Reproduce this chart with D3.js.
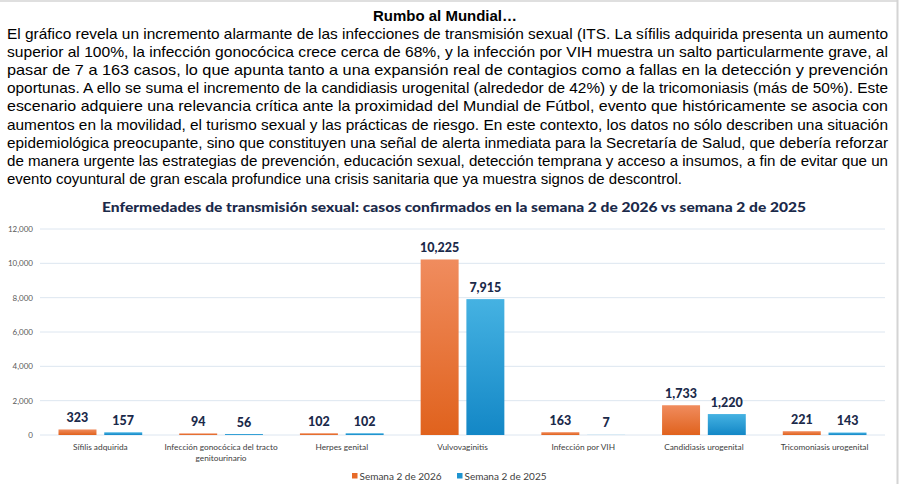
<!DOCTYPE html>
<html><head><meta charset="utf-8">
<script src="https://cdn.jsdelivr.net/npm/d3@7"></script>
<style>
html,body{margin:0;padding:0;background:#fff;}
svg{display:block;}
</style></head>
<body>
<svg id="c" width="900" height="484"></svg>
<script>
const headline = "Rumbo al Mundial…";
const paragraph = [
 "El gráfico revela un incremento alarmante de las infecciones de transmisión sexual (ITS. La sífilis adquirida presenta un aumento",
 "superior al 100%, la infección gonocócica crece cerca de 68%, y la infección por VIH muestra un salto particularmente grave, al",
 "pasar de 7 a 163 casos, lo que apunta tanto a una expansión real de contagios como a fallas en la detección y prevención",
 "oportunas. A ello se suma el incremento de la candidiasis urogenital (alrededor de 42%) y de la tricomoniasis (más de 50%). Este",
 "escenario adquiere una relevancia crítica ante la proximidad del Mundial de Fútbol, evento que históricamente se asocia con",
 "aumentos en la movilidad, el turismo sexual y las prácticas de riesgo. En este contexto, los datos no sólo describen una situación",
 "epidemiológica preocupante, sino que constituyen una señal de alerta inmediata para la Secretaría de Salud, que debería reforzar",
 "de manera urgente las estrategias de prevención, educación sexual, detección temprana y acceso a insumos, a fin de evitar que un",
 "evento coyuntural de gran escala profundice una crisis sanitaria que ya muestra signos de descontrol."
];
const chartTitle = "Enfermedades de transmisión sexual: casos confirmados en la semana 2 de 2026 vs semana 2 de 2025";
const categories = [
 ["Sífilis adquirida"],
 ["Infección gonocócica del tracto","genitourinario"],
 ["Herpes genital"],
 ["Vulvovaginitis"],
 ["Infección por VIH"],
 ["Candidiasis urogenital"],
 ["Tricomoniasis urogenital"]
];
const seriesNames = ["Semana 2 de 2026","Semana 2 de 2025"];
const values2026 = [323, 94, 102, 10225, 163, 1733, 221];
const values2025 = [157, 56, 102, 7915, 7, 1220, 143];
const yTicks = [0, 2000, 4000, 6000, 8000, 10000, 12000];

const svg = d3.select("#c");
// frame
svg.append("line").attr("x1",0).attr("x2",898).attr("y1",1).attr("y2",1).attr("stroke","#d4d4d4").attr("stroke-width",1.5);
svg.append("line").attr("x1",897.5).attr("x2",897.5).attr("y1",0).attr("y2",484).attr("stroke","#d4d4d4").attr("stroke-width",2);

const defs = svg.append("defs");
const g1 = defs.append("linearGradient").attr("id","gO").attr("x1",0).attr("y1",0).attr("x2",0).attr("y2",1);
g1.append("stop").attr("offset","0%").attr("stop-color","#f08c5e");
g1.append("stop").attr("offset","100%").attr("stop-color","#e0621d");
const g2 = defs.append("linearGradient").attr("id","gB").attr("x1",0).attr("y1",0).attr("x2",0).attr("y2",1);
g2.append("stop").attr("offset","0%").attr("stop-color","#45b2e2");
g2.append("stop").attr("offset","100%").attr("stop-color","#1387c6");

const bodyFont = "'Liberation Sans Narrow','Arial Narrow','Liberation Sans',Arial,sans-serif";
svg.append("text").attr("x",445).attr("y",21).attr("text-anchor","middle")
  .attr("font-family",bodyFont).attr("font-weight","bold").attr("font-size",15)
  .attr("fill","#000").attr("textLength",144).attr("lengthAdjust","spacingAndGlyphs").text(headline);

paragraph.forEach((line,i)=>{
  const t = svg.append("text").attr("x",7).attr("y",39+i*18.1)
    .attr("font-family",bodyFont).attr("font-size",14.5).attr("fill","#000")
    .attr("lengthAdjust","spacingAndGlyphs").text(line);
  t.attr("textLength", i < paragraph.length-1 ? 881 : 675);
});

const chartFont = "Lato,'Open Sans',sans-serif";
svg.append("text").attr("x",454).attr("y",212).attr("text-anchor","middle")
  .attr("font-family",chartFont).attr("font-weight","900").attr("font-size",13.5)
  .attr("fill","#1b2a4a").attr("textLength",704).attr("lengthAdjust","spacingAndGlyphs").text(chartTitle);

const x = d3.scaleBand().domain(d3.range(categories.length)).range([40,885]).padding(0);
const xi = d3.scaleBand().domain([0,1]).range([18.5, x.bandwidth()-18.5]).paddingInner(0.17).paddingOuter(0);
const y = d3.scaleLinear().domain([0,12000]).range([435,229]);

const grid = svg.append("g");
grid.selectAll("line").data(yTicks).join("line")
  .attr("x1",40).attr("x2",885).attr("y1",d=>y(d)).attr("y2",d=>y(d))
  .attr("stroke","#dde6f0").attr("stroke-width",1);

const yAxis = svg.append("g").attr("transform","translate(36,0)")
  .call(d3.axisLeft(y).tickValues(yTicks).tickFormat(d3.format(",")).tickSize(0).tickPadding(3));
yAxis.select(".domain").remove();
yAxis.selectAll("text").attr("font-family",chartFont).attr("font-size",8).attr("fill","#595959");

const data = [values2026, values2025];
const fills = ["url(#gO)","url(#gB)"];
data.forEach((vals,s)=>{
  svg.append("g").selectAll("rect").data(vals).join("rect")
    .attr("x",(d,i)=>x(i)+xi(s)).attr("width",xi.bandwidth())
    .attr("y",d=>y(d)).attr("height",d=>y(0)-y(d)).attr("fill",fills[s]);
  svg.append("g").selectAll("text").data(vals).join("text")
    .attr("x",(d,i)=>x(i)+xi(s)+xi.bandwidth()/2).attr("y",d=>y(d)-7.5)
    .attr("text-anchor","middle").attr("font-family",chartFont).attr("font-weight","900")
    .attr("font-size",12.5).attr("fill","#1b2a4a").text(d=>d3.format(",")(d));
});

const xl = svg.append("g");
categories.forEach((lines,i)=>{
  lines.forEach((ln,j)=>{
    xl.append("text").attr("x",x(i)+x.bandwidth()/2).attr("y",450+j*11)
      .attr("text-anchor","middle").attr("font-family",chartFont).attr("font-size",8.3)
      .attr("fill","#404040").text(ln);
  });
});

const legendX = [352, 457];
const legendColors = ["#e76a28","#1e94d0"];
seriesNames.forEach((n,i)=>{
  svg.append("rect").attr("x",legendX[i]).attr("y",473).attr("width",5.5).attr("height",5.5).attr("fill",legendColors[i]);
  svg.append("text").attr("x",legendX[i]+7.5).attr("y",479.5).attr("font-family",chartFont)
    .attr("font-size",10).attr("fill","#404040").text(n);
});
</script>
</body></html>
